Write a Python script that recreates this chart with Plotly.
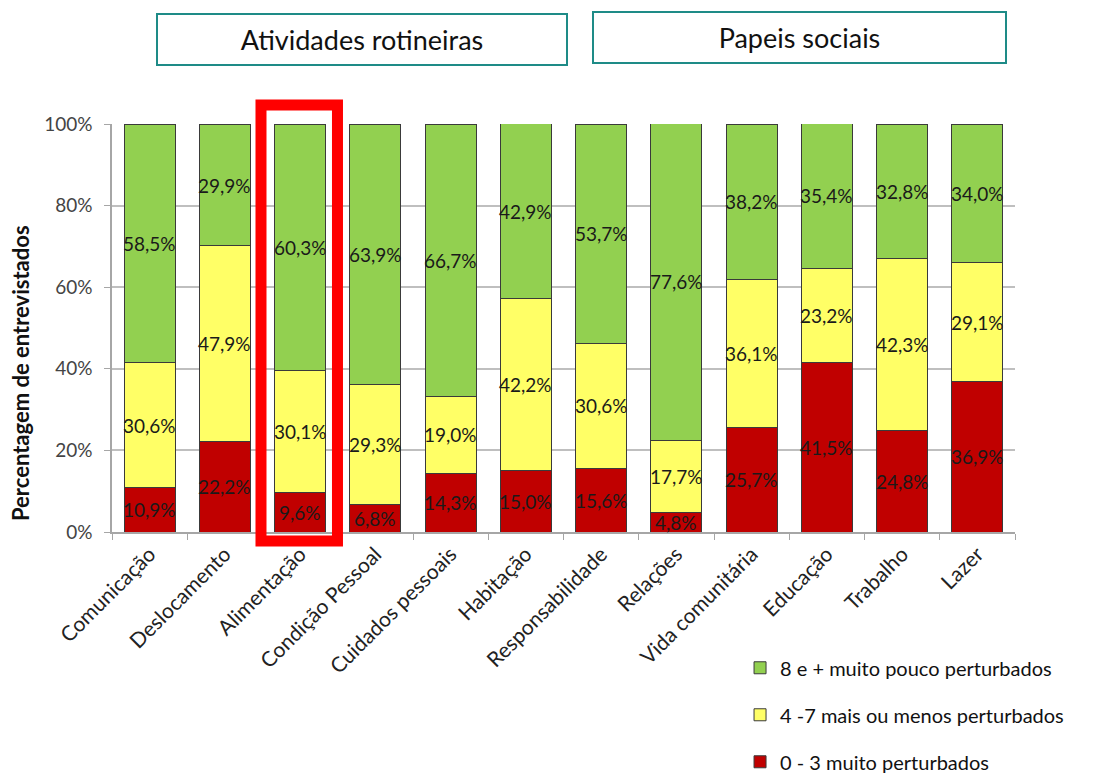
import plotly.graph_objects as go

categories = ["Comunicação", "Deslocamento", "Alimentação", "Condição Pessoal",
              "Cuidados pessoais", "Habitação", "Responsabilidade", "Relações",
              "Vida comunitária", "Educação", "Trabalho", "Lazer"]
muito_perturbados = [10.9, 22.2, 9.6, 6.8, 14.3, 15.0, 15.6, 4.8, 25.7, 41.5, 24.8, 36.9]
mais_ou_menos = [30.6, 47.9, 30.1, 29.3, 19.0, 42.2, 30.6, 17.7, 36.1, 23.2, 42.3, 29.1]
muito_pouco = [58.5, 29.9, 60.3, 63.9, 66.7, 42.9, 53.7, 77.6, 38.2, 35.4, 32.8, 34.0]
series_names = ["0 - 3 muito perturbados", "4 -7 mais ou menos perturbados",
                "8 e + muito pouco perturbados"]
series_colors = ["#C00000", "#FFFF66", "#92D050"]
y_ticks = [0, 20, 40, 60, 80, 100]
y_tick_labels = ["0%", "20%", "40%", "60%", "80%", "100%"]
group_titles = ["Atividades rotineiras", "Papeis sociais"]

FONT = "Lato, 'Open Sans', sans-serif"

fig = go.Figure()
series = [muito_perturbados, mais_ou_menos, muito_pouco]
ranks = [3, 2, 1]
for vals, name, color, rank in zip(series, series_names, series_colors, ranks):
    fig.add_trace(go.Bar(
        x=categories, y=vals, name=name, legendgroup=name, legendrank=rank,
        marker=dict(color=color, line=dict(color="#3a3a3a", width=1)),
        hoverinfo="skip",
    ))

# data labels at segment centres
annotations = []
for i, cat in enumerate(categories):
    base = 0.0
    for vals in series:
        v = vals[i]
        annotations.append(dict(
            x=cat, y=base + v / 2, xref="x", yref="y",
            text=f"{v:.1f}".replace(".", ",") + "%",
            showarrow=False, font=dict(family=FONT, size=19, color="#1a1a1a"),
            xanchor="center", yanchor="middle"))
        base += v

# group header boxes
annotations.append(dict(x=0.2769, y=1.206, xref="paper", yref="paper",
                        text=group_titles[0], showarrow=False,
                        font=dict(family=FONT, size=27, color="#111"),
                        bordercolor="#1E8B87", borderwidth=2, borderpad=0,
                        width=408, height=49, xanchor="center", yanchor="middle"))
annotations.append(dict(x=0.7614, y=1.211, xref="paper", yref="paper",
                        text=group_titles[1], showarrow=False,
                        font=dict(family=FONT, size=27, color="#111"),
                        bordercolor="#1E8B87", borderwidth=2, borderpad=0,
                        width=411, height=49, xanchor="center", yanchor="middle"))
# y axis title
annotations.append(dict(x=(20 - 112) / 903, y=(532 - 373) / 408, xref="paper", yref="paper",
                        text="<b>Percentagem de entrevistados</b>", showarrow=False,
                        textangle=-90, font=dict(family=FONT, size=22, color="#111"),
                        xanchor="center", yanchor="middle"))

fig.update_layout(
    width=1098, height=773,
    margin=dict(l=112, r=83, t=124, b=241, autoexpand=False),
    barmode="stack", bargap=0.32,
    plot_bgcolor="white", paper_bgcolor="white",
    font=dict(family=FONT, color="#333"),
    annotations=annotations,
    showlegend=True,
    legend=dict(x=0.6955, y=-0.285, xanchor="left", yanchor="top",
                traceorder="grouped", tracegroupgap=18,
                font=dict(family=FONT, size=20, color="#111"),
                bgcolor="rgba(0,0,0,0)"),
    shapes=[dict(type="rect", xref="paper", yref="paper",
                 x0=0.165, x1=0.2497, y0=-0.022, y1=1.0466,
                 line=dict(color="#FF0000", width=11), fillcolor="rgba(0,0,0,0)")],
)
fig.update_xaxes(type="category", showline=True, linecolor="#A6A6A6", linewidth=1.5,
                 ticks="outside", tickson="boundaries", ticklen=6, tickcolor="#A6A6A6",
                 tickangle=-45, tickfont=dict(family=FONT, size=21, color="#222"),
                 showgrid=False, automargin=False)
fig.update_yaxes(range=[0, 100], tickvals=y_ticks, ticktext=y_tick_labels,
                 showline=True, linecolor="#A6A6A6", linewidth=1.5,
                 ticks="outside", ticklen=6, tickcolor="#A6A6A6",
                 showgrid=True, gridcolor="#BFBFBF", gridwidth=1.5,
                 zeroline=False, ticklabelstandoff=8, automargin=False,
                 tickfont=dict(family=FONT, size=19, color="#444"))

fig.write_html("out.html")
